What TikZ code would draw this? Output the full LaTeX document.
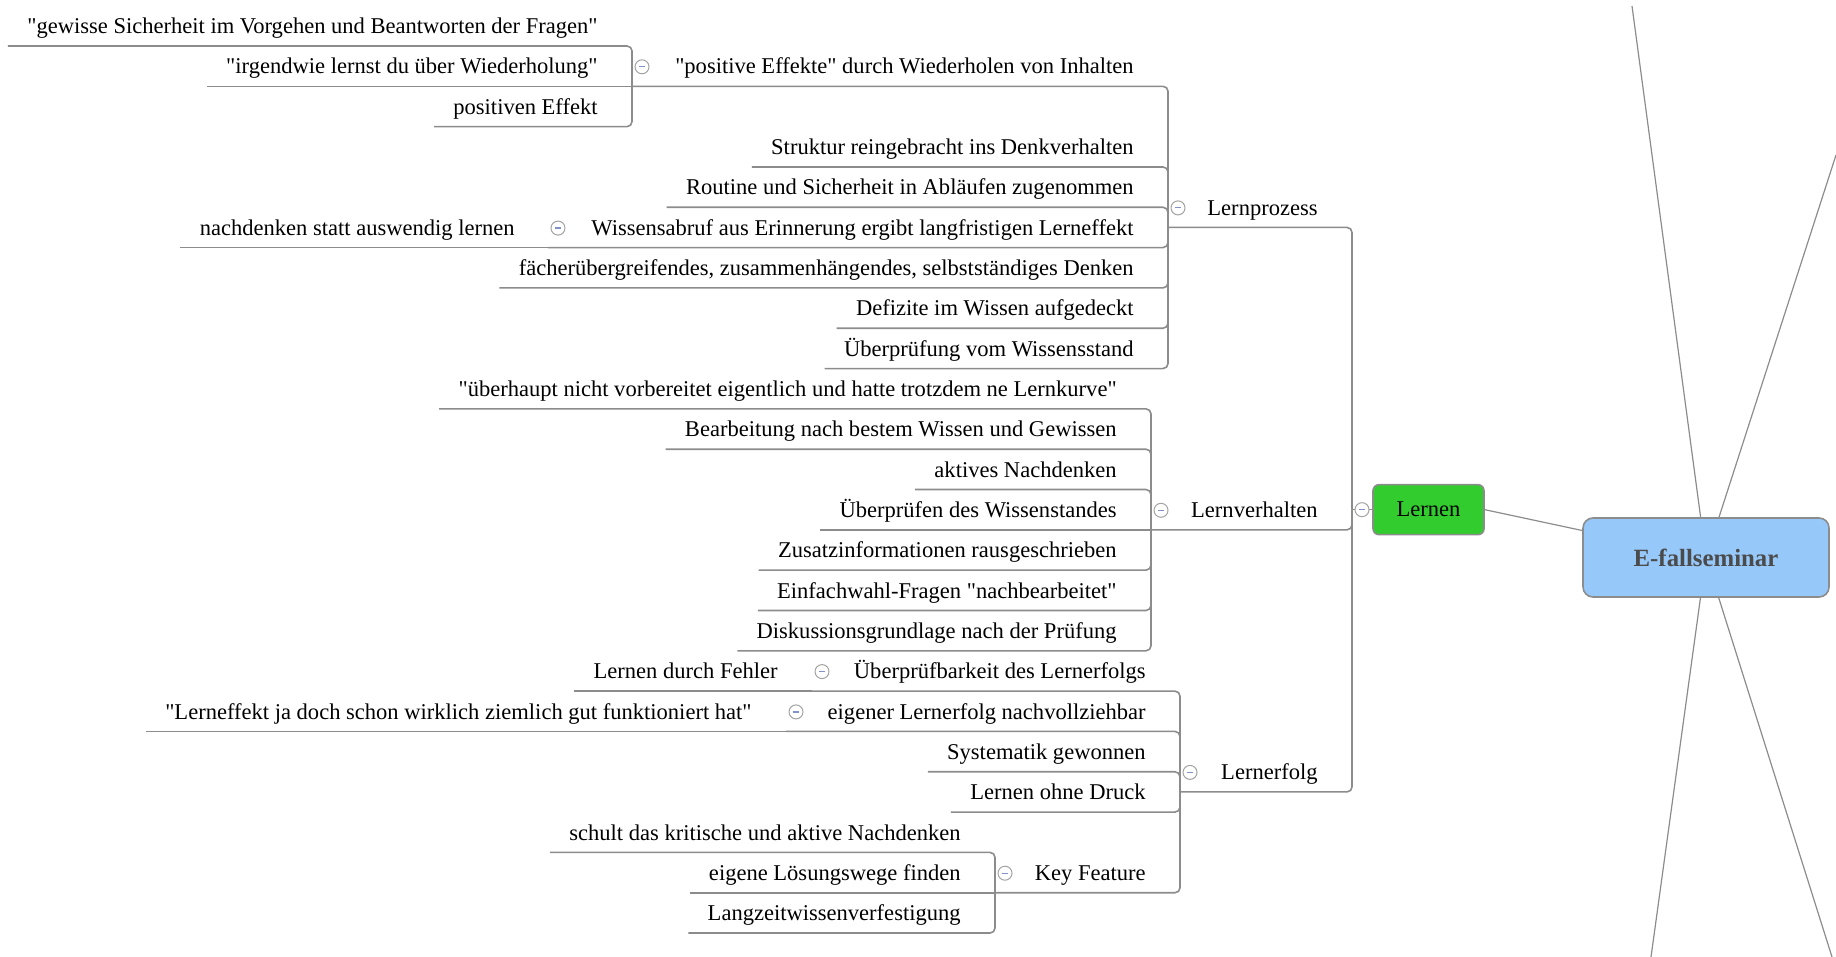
\documentclass[tikz,border=0pt]{standalone}
\usepackage{fontspec}
\setmainfont{Liberation Serif}[Ligatures=TeXOff]
\definecolor{linegray}{RGB}{140,140,140}
\definecolor{rootblue}{RGB}{150,200,250}
\definecolor{leafgreen}{RGB}{51,204,46}
\definecolor{minusblue}{RGB}{130,145,200}
\definecolor{roottext}{RGB}{75,75,75}
\begin{document}
\begin{tikzpicture}[x=0.5pt,y=-0.5pt,
  topic/.style={anchor=south east, inner sep=0pt, text height=8pt, text depth=6pt,
    font=\fontsize{11.27}{13}\selectfont},
  conn/.style={draw=linegray, line width=0.8pt, rounded corners=2.5pt},
  rootline/.style={draw=linegray, line width=0.6pt},
  minusicon/.style={circle, draw=linegray!80, fill=white, line width=0.5pt,
    minimum size=7pt, inner sep=0pt,
    path picture={\draw[minusblue, line width=0.6pt]
      ([xshift=-1.6pt]path picture bounding box.center) --
      ([xshift=1.6pt]path picture bounding box.center);}},
]
\useasboundingbox (0,0) rectangle (1836,957);

% ---------- central topics ----------
\node[draw=linegray, line width=0.8pt, fill=rootblue, rounded corners=5pt,
  minimum width=123pt, minimum height=39.5pt,
  font=\fontsize{12.4}{14}\selectfont\bfseries, text=roottext] (root) at (1706,557.5) {E-fallseminar};
\node[draw=linegray, line width=0.8pt, fill=leafgreen, rounded corners=3pt,
  minimum width=55.5pt, minimum height=25pt,
  font=\fontsize{11.27}{13}\selectfont] (lernen) at (1428.5,509.68) {Lernen};

% branches leading to topics outside the view
\coordinate (o1) at (1632,6);
\coordinate (o2) at (1836,155);
\coordinate (o3) at (1651,957);
\coordinate (o4) at (1832,957);
\draw[rootline] (root) -- (o1);
\draw[rootline] (root) -- (o2);
\draw[rootline] (root) -- (o3);
\draw[rootline] (root) -- (o4);
\draw[rootline] (lernen.east) -- ([yshift=13.5pt]root.west);

% ---------- Lernprozess ----------
\node[topic] (lp) at (1318,227.44) {Lernprozess};
\node[topic] (pe) at (1134,86.32) {"positive Effekte" durch Wiederholen von Inhalten};
\node[topic] (g1) at (598,46) {"gewisse Sicherheit im Vorgehen und Beantworten der Fragen"};
\node[topic] (g2) at (598,86.32) {"irgendwie lernst du über Wiederholung"};
\node[topic] (g3) at (598,126.64) {positiven Effekt};
\node[topic] (st) at (1134,166.96) {Struktur reingebracht ins Denkverhalten};
\node[topic] (ro) at (1134,207.28) {Routine und Sicherheit in Abläufen zugenommen};
\node[topic] (wa) at (1134,247.6) {Wissensabruf aus Erinnerung ergibt langfristigen Lerneffekt};
\node[topic] (na) at (515,247.6) {nachdenken statt auswendig lernen};
\node[topic] (fa) at (1134,287.92) {fächerübergreifendes, zusammenhängendes, selbstständiges Denken};
\node[topic] (de) at (1134,328.24) {Defizite im Wissen aufgedeckt};
\node[topic] (uw) at (1134,368.56) {Überprüfung vom Wissensstand};

% ---------- Lernverhalten ----------
\node[topic] (lv) at (1318,529.84) {Lernverhalten};
\node[topic] (v1) at (1117,408.88) {"überhaupt nicht vorbereitet eigentlich und hatte trotzdem ne Lernkurve"};
\node[topic] (v2) at (1117,449.2) {Bearbeitung nach bestem Wissen und Gewissen};
\node[topic] (v3) at (1117,489.52) {aktives Nachdenken};
\node[topic] (v4) at (1117,529.84) {Überprüfen des Wissenstandes};
\node[topic] (v5) at (1117,570.16) {Zusatzinformationen rausgeschrieben};
\node[topic] (v6) at (1117,610.48) {Einfachwahl-Fragen "nachbearbeitet"};
\node[topic] (v7) at (1117,650.8) {Diskussionsgrundlage nach der Prüfung};

% ---------- Lernerfolg ----------
\node[topic] (le) at (1318,791.92) {Lernerfolg};
\node[topic] (ub) at (1146,691.12) {Überprüfbarkeit des Lernerfolgs};
\node[topic] (lf) at (778,691.12) {Lernen durch Fehler};
\node[topic] (ef) at (1146,731.44) {eigener Lernerfolg nachvollziehbar};
\node[topic] (ez) at (752,731.44) {"Lerneffekt ja doch schon wirklich ziemlich gut funktioniert hat"};
\node[topic] (sy) at (1146,771.76) {Systematik gewonnen};
\node[topic] (od) at (1146,812.08) {Lernen ohne Druck};
\node[topic] (kf) at (1146,892.72) {Key Feature};
\node[topic] (k1) at (961,852.4) {schult das kritische und aktive Nachdenken};
\node[topic] (k2) at (961,892.72) {eigene Lösungswege finden};
\node[topic] (k3) at (961,933.04) {Langzeitwissenverfestigung};

% ---------- branch junctions ----------
\coordinate (lernenB) at (1352,509.68);
\coordinate (lpB) at (1168,227.44);
\coordinate (peB) at (632,86.32);
\coordinate (waB) at (548,247.6);
\coordinate (lvB) at (1151,529.84);
\coordinate (leB) at (1180,791.92);
\coordinate (ubB) at (812,691.12);
\coordinate (efB) at (786,731.44);
\coordinate (kfB) at (995,892.72);

% ---------- connectors ----------
\draw[conn] (lernenB) -- (lernen.west);
\draw[conn] (lernenB) |- (lp.south east) -- (lpB);
\draw[conn] (lernenB) |- (lv.south east) -- (lvB);
\draw[conn] (lernenB) |- (le.south east) -- (leB);

\draw[conn] (lpB) |- (pe.south east) -- (peB);
\draw[conn] (lpB) |- (st.south east) -- ([xshift=-9.5pt]st.south west);
\draw[conn] (lpB) |- (ro.south east) -- ([xshift=-9.5pt]ro.south west);
\draw[conn] (lpB) |- (wa.south east) -- (waB);
\draw[conn] (lpB) |- (fa.south east) -- ([xshift=-9.5pt]fa.south west);
\draw[conn] (lpB) |- (de.south east) -- ([xshift=-9.5pt]de.south west);
\draw[conn] (lpB) |- (uw.south east) -- ([xshift=-9.5pt]uw.south west);

\draw[conn] (peB) |- (g1.south east) -- ([xshift=-9.5pt]g1.south west);
\draw[conn] (peB) -- (g2.south east) -- ([xshift=-9.5pt]g2.south west);
\draw[conn] (peB) |- (g3.south east) -- ([xshift=-9.5pt]g3.south west);
\draw[conn] (waB) -- (na.south east) -- ([xshift=-9.5pt]na.south west);

\draw[conn] (lvB) |- (v1.south east) -- ([xshift=-9.5pt]v1.south west);
\draw[conn] (lvB) |- (v2.south east) -- ([xshift=-9.5pt]v2.south west);
\draw[conn] (lvB) |- (v3.south east) -- ([xshift=-9.5pt]v3.south west);
\draw[conn] (lvB) -- (v4.south east) -- ([xshift=-9.5pt]v4.south west);
\draw[conn] (lvB) |- (v5.south east) -- ([xshift=-9.5pt]v5.south west);
\draw[conn] (lvB) |- (v6.south east) -- ([xshift=-9.5pt]v6.south west);
\draw[conn] (lvB) |- (v7.south east) -- ([xshift=-9.5pt]v7.south west);

\draw[conn] (leB) |- (ub.south east) -- (ubB);
\draw[conn] (leB) |- (ef.south east) -- (efB);
\draw[conn] (leB) |- (sy.south east) -- ([xshift=-9.5pt]sy.south west);
\draw[conn] (leB) |- (od.south east) -- ([xshift=-9.5pt]od.south west);
\draw[conn] (leB) |- (kf.south east) -- (kfB);
\draw[conn] (ubB) -- (lf.south east) -- ([xshift=-9.5pt]lf.south west);
\draw[conn] (efB) -- (ez.south east) -- ([xshift=-9.5pt]ez.south west);
\draw[conn] (kfB) |- (k1.south east) -- ([xshift=-9.5pt]k1.south west);
\draw[conn] (kfB) -- (k2.south east) -- ([xshift=-9.5pt]k2.south west);
\draw[conn] (kfB) |- (k3.south east) -- ([xshift=-9.5pt]k3.south west);

% ---------- collapse markers ----------
\node[minusicon] (lernenI) at (1362,509.68) {};
\node[minusicon] (lpI) at (1178,207.9) {};
\node[minusicon] (peI) at (642,66.8) {};
\node[minusicon] (waI) at (558,228.1) {};
\node[minusicon] (lvI) at (1161,510.3) {};
\node[minusicon] (leI) at (1190,772.4) {};
\node[minusicon] (ubI) at (822,671.6) {};
\node[minusicon] (efI) at (796,711.9) {};
\node[minusicon] (kfI) at (1005,873.2) {};
\end{tikzpicture}
\end{document}
